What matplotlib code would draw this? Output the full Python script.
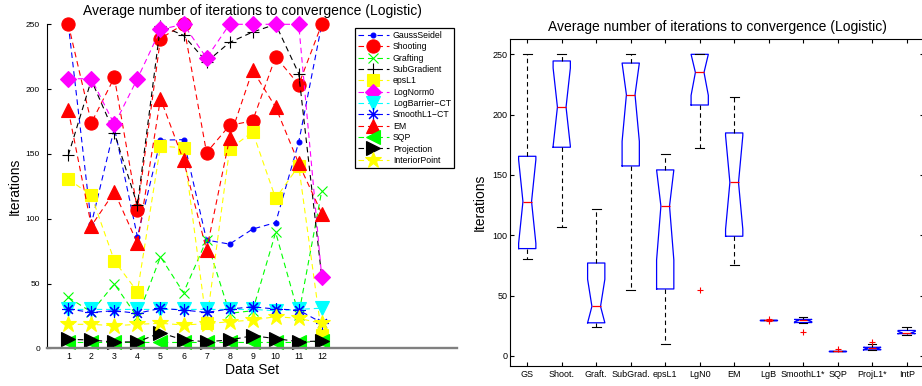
"""Logistic regression: iterations to convergence per data set, line plot + notched boxplot."""

import matplotlib

matplotlib.use("Agg")
import matplotlib.pyplot as plt
import numpy as np

plt.rcParams["font.family"] = ["Liberation Sans", "DejaVu Sans"]

TITLE = "Average number of iterations to convergence (Logistic)"
DATA_SETS = [1, 2, 3, 4, 5, 6, 7, 8, 9, 10, 11, 12]

# iterations per data set
gauss_seidel = [250, 96, 170, 86, 160.6, 161, 83.5, 80.4, 92, 97, 159, 250]
shooting = [250, 174, 209, 107, 239, 250, 151, 172, 175.5, 225, 203.5, 250]
grafting = [39.3, 28, 49.6, 24, 70.6, 42.9, 83.5, 27, 29, 89.4, 26, 121.5]
subgradient = [149, 207, 166, 110.5, 249, 241.5, 221, 236, 244, 250, 212, 55]
eps_l1 = [130.5, 118, 67.5, 43.6, 156, 154.7, 19.5, 153.7, 167, 115.6, 140.8, 10.2]
log_norm0 = [208, 208, 172.7, 208, 246, 250, 224, 250, 250, 250, 250, 55]
log_barrier = [30, 30, 30, 30, 30, 30, 30, 30, 30, 29, 30, 31]
smooth_l1 = [30.3, 27.7, 29, 27, 30.8, 29.5, 27.7, 30.3, 32, 30.3, 29.5, 19.7]
em = [183.7, 94.5, 120.7, 81, 192.7, 145, 75.8, 162, 214.6, 186, 142.6, 104]
sqp = [4.5, 4.5, 4.5, 4.5, 4.5, 4.5, 4.5, 4.5, 4.5, 4.5, 4.5, 5.5]
projection = [6.9, 6.4, 4.8, 5.0, 12.0, 6.4, 5.1, 6.4, 9.7, 7.5, 5.1, 5.6]
interior_point = [18.5, 18.5, 17.4, 18.5, 19.3, 18, 19, 20.5, 21.8, 24.4, 23.1, 19.3]

LEGEND_NAMES = ["GaussSeidel", "Shooting", "Grafting", "SubGradient", "epsL1", "LogNorm0",
                "LogBarrier\u2212CT", "SmoothL1\u2212CT", "EM", "SQP", "Projection", "InteriorPoint"]
SERIES = [gauss_seidel, shooting, grafting, subgradient, eps_l1, log_norm0,
          log_barrier, smooth_l1, em, sqp, projection, interior_point]

# boxplot uses its own order / short names
BOX_ORDER = [0, 1, 2, 3, 4, 5, 8, 6, 7, 9, 10, 11]
BOX_LABELS = ["GS", "Shoot.", "Graft.", "SubGrad.", "epsL1", "LgN0", "EM",
              "LgB", "SmoothL1*", "SQP", "ProjL1*", "IntP"]

# (color, marker, size, filled)
STYLES = [
    ("#0000ff", ".", 7, True),
    ("#ff0000", "o", 9.5, True),
    ("#00ff00", "x", 7, False),
    ("#000000", "+", 9, False),
    ("#ffff00", "s", 8.5, True),
    ("#ff00ff", "D", 8.5, True),
    ("#00ffff", "v", 9.5, True),
    ("#0000ff", (8, 2, 0), 9, False),
    ("#ff0000", "^", 9.5, True),
    ("#00ff00", "<", 9.5, True),
    ("#000000", ">", 9.5, True),
    ("#ffff00", "*", 12, True),
]


def matlab_box_stats(vals):
    """Box stats the way MATLAB's boxplot does them (hazen quantiles, 1.5 IQR, notch 1.57)."""
    v = np.sort(np.asarray(vals, float))
    q1, med, q3 = np.percentile(v, [25, 50, 75], method="hazen")
    iqr = q3 - q1
    lo, hi = q1 - 1.5 * iqr, q3 + 1.5 * iqr
    inside = v[(v >= lo) & (v <= hi)]
    half = 1.57 * iqr / np.sqrt(len(v))
    # notch is kept inside the box, as in the original
    return dict(med=med, q1=q1, q3=q3, whislo=inside.min(), whishi=inside.max(),
                fliers=v[(v < lo) | (v > hi)],
                cilo=max(med - half, q1), cihi=min(med + half, q3))


fig = plt.figure(figsize=(9.22, 3.86), dpi=100)

# left: per data set lines
ax1 = fig.add_axes([47 / 922, (386 - 348.3) / 386, 410 / 922, 324 / 386])
for name, vals, (col, mk, ms, filled) in zip(LEGEND_NAMES, SERIES, STYLES):
    ax1.plot(DATA_SETS, vals, ls=(0, (5, 3.5)), lw=0.8, color=col, marker=mk, ms=ms,
             mfc=col if filled else "none", mec=col, mew=0.8, label=name, clip_on=False)

ax1.set_xlim(0.075, 17.87)
ax1.set_ylim(0, 250)
ax1.set_xticks(DATA_SETS)
ax1.set_yticks([0, 50, 100, 150, 200, 250])
ax1.spines["top"].set_visible(False)
ax1.spines["right"].set_visible(False)
ax1.spines["left"].set_linewidth(0.8)
ax1.spines["bottom"].set_color("#808080")
ax1.spines["bottom"].set_linewidth(1.7)
ax1.tick_params(axis="y", direction="in", length=3, width=0.8, labelsize=6, pad=5)
ax1.tick_params(axis="x", length=0, labelsize=6.3, pad=3)
ax1.set_xlabel("Data Set", fontsize=10, labelpad=1)
ax1.set_ylabel("Iterations", fontsize=10)
ax1.yaxis.set_label_coords(-0.062, 0.5)
ax1.set_title(TITLE, fontsize=10, pad=6.5)
leg = ax1.legend(loc="upper right", bbox_to_anchor=(0.993, 0.989), borderaxespad=0,
                 fontsize=6.3, handlelength=3.5, handletextpad=0.5, labelspacing=0.27,
                 borderpad=0.35, fancybox=False, framealpha=1, edgecolor="black")
leg.get_frame().set_linewidth(0.9)

# right: notched boxplots of the same numbers
ax2 = fig.add_axes([510 / 922, (386 - 366) / 386, 413.9 / 922, 327 / 386])
stats = [matlab_box_stats(SERIES[i]) for i in BOX_ORDER]
ax2.bxp(stats, positions=DATA_SETS, widths=0.5, shownotches=True, manage_ticks=False,
        boxprops=dict(color="#0000ff", lw=0.9),
        medianprops=dict(color="#ff0000", lw=0.9),
        whiskerprops=dict(color="black", lw=0.8, ls=(0, (4, 3))),
        capprops=dict(color="black", lw=0.8),
        flierprops=dict(marker="+", mec="#ff0000", ms=5, mew=0.8, ls="none"))
ax2.set_xlim(0.5, 12.5)
ax2.set_ylim(-8.3, 262.7)
ax2.set_xticks(DATA_SETS)
ax2.set_xticklabels(BOX_LABELS)
ax2.set_yticks([0, 50, 100, 150, 200, 250])
ax2.tick_params(direction="in", top=True, right=True, length=3, width=0.8, labelsize=6.5)
ax2.tick_params(axis="x", pad=3)
ax2.tick_params(axis="y", pad=2)
for sp in ax2.spines.values():
    sp.set_linewidth(0.8)
ax2.set_ylabel("Iterations", fontsize=10)
ax2.yaxis.set_label_coords(-0.056, 0.5)
ax2.set_title(TITLE, fontsize=10, pad=5.5)

fig.savefig("out.png", dpi=100)
